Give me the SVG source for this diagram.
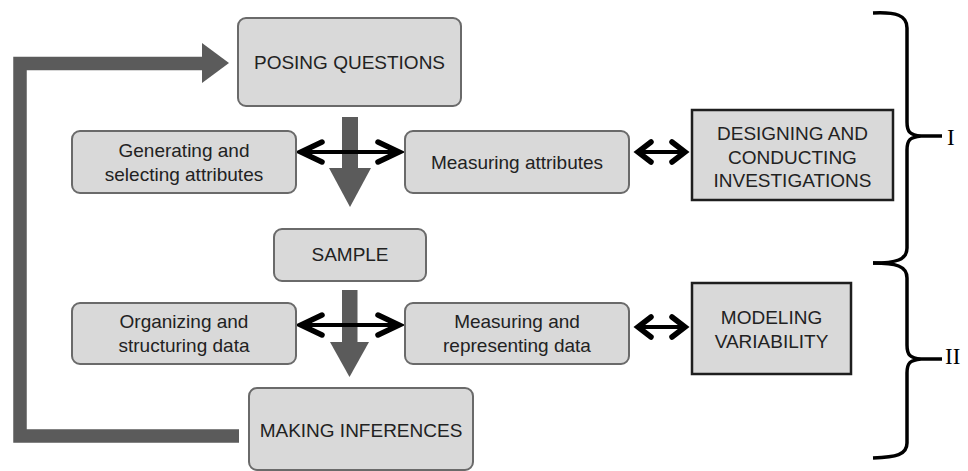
<svg xmlns="http://www.w3.org/2000/svg" width="968" height="471" viewBox="0 0 968 471">
<style>
.rbox{fill:#d9d9d9;stroke:#6a6a6a;stroke-width:2}
.sbox{fill:#d9d9d9;stroke:#1e1e1e;stroke-width:2.5}
.t{font-family:"Liberation Sans",Arial,sans-serif;font-size:19px;fill:#222;text-anchor:middle}
.big{fill:#5b5b5b}
.ln{fill:none;stroke:#000;stroke-width:4}
.hd{fill:none;stroke:#000;stroke-width:5.5;stroke-linecap:round;stroke-linejoin:miter}
.brace{fill:none;stroke:#000;stroke-width:3.5;stroke-linecap:butt}
.rl{font-family:"Liberation Serif","Times New Roman",serif;font-size:23px;fill:#000}
</style>
<g id="connectors">
  <path d="M239,436 H20 V63.5 H203" fill="none" stroke="#5b5b5b" stroke-width="13.5"/>
  <polygon class="big" points="202,43 229,63 202,83"/>
  <rect class="big" x="342" y="117" width="16" height="52"/>
  <polygon class="big" points="329,168 371,168 350,207"/>
  <rect class="big" x="342" y="290" width="15.5" height="53"/>
  <polygon class="big" points="330,342 369,342 349.5,377"/>
  <path class="ln" d="M302,152 H398"/>
  <path class="hd" d="M322,142 L301,152 L322,162 M378,142 L399,152 L378,162"/>
  <path class="ln" d="M640,152 H683"/>
  <path class="hd" d="M651,142 L638,152 L651,162 M672,142 L685,152 L672,162"/>
  <path class="ln" d="M302,325 H398"/>
  <path class="hd" d="M322,315 L301,325 L322,335 M378,315 L399,325 L378,335"/>
  <path class="ln" d="M640,327 H683"/>
  <path class="hd" d="M651,317 L638,327 L651,337 M672,317 L685,327 L672,337"/>
</g>
<g id="posing">
  <rect class="rbox" x="238" y="18" width="223" height="88" rx="8"/>
  <text class="t" x="349.5" y="69">POSING QUESTIONS</text>
</g>
<g id="generating">
  <rect class="rbox" x="72" y="131" width="224" height="62" rx="8"/>
  <text class="t" x="184" y="157">Generating and</text>
  <text class="t" x="184" y="181">selecting attributes</text>
</g>
<g id="measuring-attributes">
  <rect class="rbox" x="405" y="131" width="224" height="62" rx="8"/>
  <text class="t" x="517" y="168.5">Measuring attributes</text>
</g>
<g id="designing">
  <rect class="sbox" x="692" y="110" width="201" height="90"/>
  <text class="t" x="792.5" y="140">DESIGNING AND</text>
  <text class="t" x="792.5" y="163.5">CONDUCTING</text>
  <text class="t" x="792.5" y="187">INVESTIGATIONS</text>
</g>
<g id="sample">
  <rect class="rbox" x="274" y="229" width="152" height="52" rx="8"/>
  <text class="t" x="350" y="261">SAMPLE</text>
</g>
<g id="organizing">
  <rect class="rbox" x="72" y="303" width="224" height="61" rx="8"/>
  <text class="t" x="184" y="328">Organizing and</text>
  <text class="t" x="184" y="352">structuring data</text>
</g>
<g id="measuring-representing">
  <rect class="rbox" x="405" y="303" width="224" height="61" rx="8"/>
  <text class="t" x="517" y="328">Measuring and</text>
  <text class="t" x="517" y="352">representing data</text>
</g>
<g id="modeling">
  <rect class="sbox" x="692" y="283" width="159" height="91"/>
  <text class="t" x="771.5" y="324">MODELING</text>
  <text class="t" x="771.5" y="348">VARIABILITY</text>
</g>
<g id="making">
  <rect class="rbox" x="249" y="388" width="224" height="82" rx="8"/>
  <text class="t" x="361" y="437">MAKING INFERENCES</text>
</g>
<g id="brace-I">
  <path class="brace" d="M873,13 C896,12 907,15 907,28 V122 C907,132 910,135 921,136 H942 M921,136 C910,137 907,140 907,150 V248 C907,260 896,263 873,263"/>
  <text class="rl" x="947" y="145">I</text>
</g>
<g id="brace-II">
  <path class="brace" d="M873,263 C896,263 907,266 907,278 V345 C907,355 910,358 921,359 H942 M921,359 C910,360 907,363 907,373 V443 C907,455 896,457 873,458"/>
  <text class="rl" x="945" y="364">II</text>
</g>
</svg>
